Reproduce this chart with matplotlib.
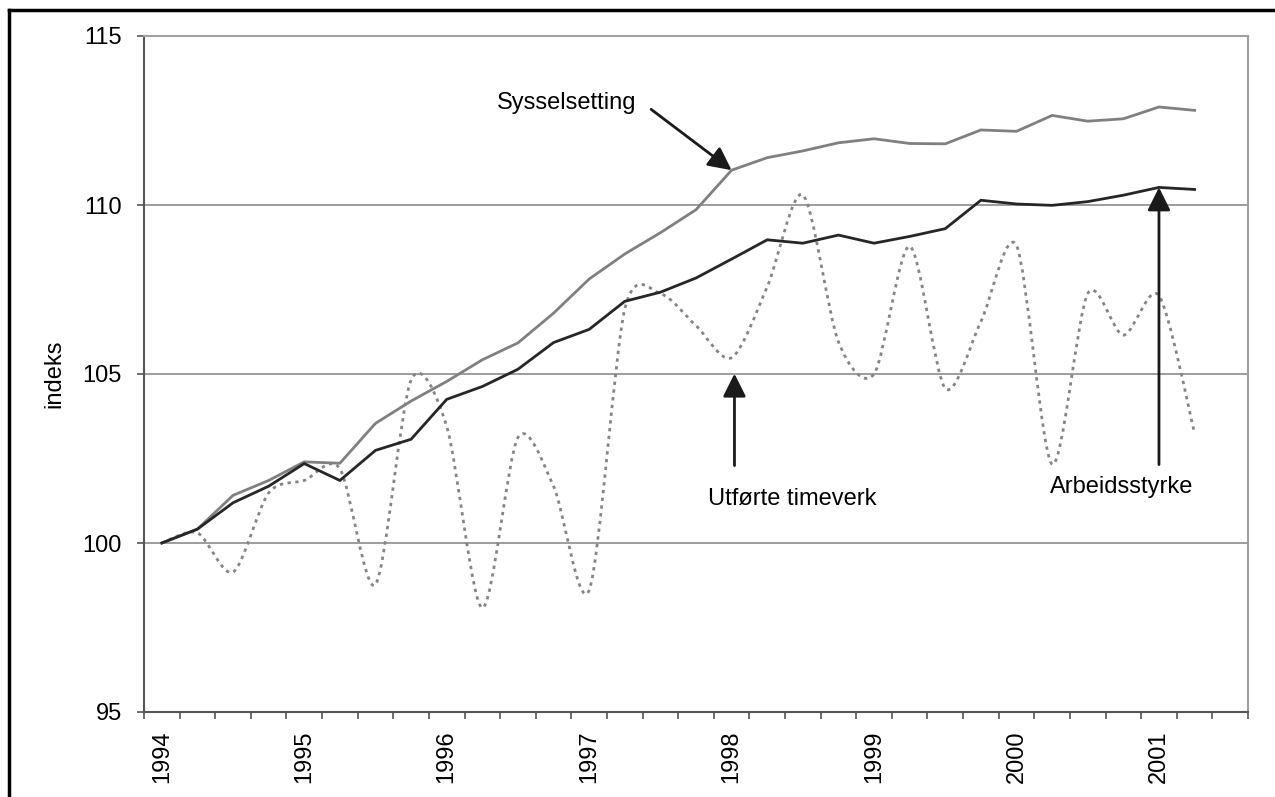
import numpy as np
import matplotlib
matplotlib.use("Agg")
import matplotlib.pyplot as plt
from matplotlib.path import Path
from matplotlib.patches import PathPatch
from matplotlib.lines import Line2D

plt.rcParams['font.family'] = ['Liberation Sans', 'DejaVu Sans']

# quarterly index, 1994Q1 = 100 (1994Q1 .. 2001Q2)
years = ['1994', '1995', '1996', '1997', '1998', '1999', '2000', '2001']
n_slots = 31  # one empty quarter slot at the end of the category axis

sysselsetting = [100.0, 100.41, 101.41, 101.85, 102.4, 102.36, 103.54, 104.2,
                 104.78, 105.42, 105.92, 106.8, 107.81, 108.55, 109.18, 109.86,
                 111.03, 111.4, 111.6, 111.84, 111.96, 111.82, 111.81, 112.22,
                 112.18, 112.65, 112.48, 112.55, 112.9, 112.8]
arbeidsstyrke = [100.0, 100.41, 101.19, 101.68, 102.35, 101.85, 102.74, 103.07,
                 104.25, 104.63, 105.14, 105.93, 106.32, 107.15, 107.42, 107.84,
                 108.4, 108.97, 108.87, 109.11, 108.87, 109.07, 109.3, 110.14,
                 110.03, 109.99, 110.1, 110.29, 110.52, 110.46]
timeverk = [100.0, 100.3, 99.14, 101.48, 101.85, 102.2, 98.77, 104.82,
            103.45, 98.08, 103.12, 101.68, 98.6, 106.92, 107.38, 106.43,
            105.48, 107.58, 110.3, 105.95, 105.0, 108.78, 104.57, 106.55,
            108.8, 102.33, 107.38, 106.15, 107.32, 103.25]


def smooth_path(xs, ys, k=7.0):
    # Excel-style smoothed line: cubic Bezier through every point
    pts = np.column_stack([xs, ys])
    verts = [pts[0]]
    codes = [Path.MOVETO]
    n = len(pts)
    for i in range(n - 1):
        p0 = pts[max(i - 1, 0)]
        p1 = pts[i]
        p2 = pts[i + 1]
        p3 = pts[min(i + 2, n - 1)]
        c1 = p1 + (p2 - p0) / k
        c2 = p2 - (p3 - p1) / k
        verts += [c1, c2, p2]
        codes += [Path.CURVE4] * 3
    return Path(verts, codes)


fig = plt.figure(figsize=(12.75, 7.97), dpi=100)
ax = fig.add_axes([144 / 1275, 1 - 712 / 797, (1248 - 144) / 1275, (712 - 36) / 797])

x = np.arange(len(sysselsetting))

ax.plot(x, sysselsetting, color='#808080', lw=2.0, solid_joinstyle='miter', zorder=4)
ax.plot(x, arbeidsstyrke, color='#262626', lw=2.0, solid_joinstyle='miter', zorder=4)
ax.add_patch(PathPatch(smooth_path(x, timeverk), fill=False, edgecolor='#858585',
                       lw=2.0, linestyle=(0, (1.2, 1.6)), zorder=3))

ax.set_xlim(-0.5, n_slots - 0.5)
ax.set_ylim(95, 115)
ax.set_yticks([95, 100, 105, 110, 115])
ax.grid(axis='y', color='#8c8c8c', lw=1.2)
ax.set_axisbelow(True)

# ticks on the category boundaries, year labels in the first quarter slot
ax.set_xticks(np.arange(n_slots + 1) - 0.5)
ax.set_xticklabels([])
ax.set_xticks(np.arange(0, 29, 4), minor=True)
ax.set_xticklabels(years, minor=True, rotation=90, fontsize=17)
ax.tick_params(axis='x', which='major', direction='out', length=5, width=1.2, color='#555555')
ax.tick_params(axis='x', which='minor', length=0, pad=13)
ax.tick_params(axis='y', direction='out', length=5, width=1.2, color='#555555',
               labelsize=17, pad=11)

for side in ['left', 'bottom']:
    ax.spines[side].set_color('#555555')
    ax.spines[side].set_linewidth(1.5)
for side in ['top', 'right']:
    ax.spines[side].set_color('#a0a0a0')
    ax.spines[side].set_linewidth(1.5)

ax.set_ylabel('indeks', fontsize=17, labelpad=12)

arrow = dict(arrowstyle='-|>,head_length=1.0,head_width=0.5', color='#1a1a1a',
             lw=2.0, shrinkA=0, shrinkB=0, mutation_scale=14)

ax.text(9.41, 113.03, 'Sysselsetting', fontsize=17, ha='left', va='center')
ax.annotate('', xy=(16, sysselsetting[16]), xytext=(13.74, 112.83), arrowprops=arrow)

ax.text(15.34, 101.29, 'Utførte timeverk', fontsize=17, ha='left', va='center')
ax.annotate('', xy=(16.08, 105.01), xytext=(16.08, 102.29), arrowprops=arrow)

ax.text(24.94, 101.67, 'Arbeidsstyrke', fontsize=17, ha='left', va='center')
ax.annotate('', xy=(28, arbeidsstyrke[28]), xytext=(28, 102.32), arrowprops=arrow)

# black frame of the pasted picture (top and left edges)
fig.add_artist(Line2D([9 / 1275, 1.0], [1 - 10 / 797, 1 - 10 / 797],
                      transform=fig.transFigure, color='black', lw=2.5))
fig.add_artist(Line2D([9 / 1275, 9 / 1275], [1 - 10 / 797, 0.0],
                      transform=fig.transFigure, color='black', lw=2.5))

fig.savefig('out.png', dpi=100)
